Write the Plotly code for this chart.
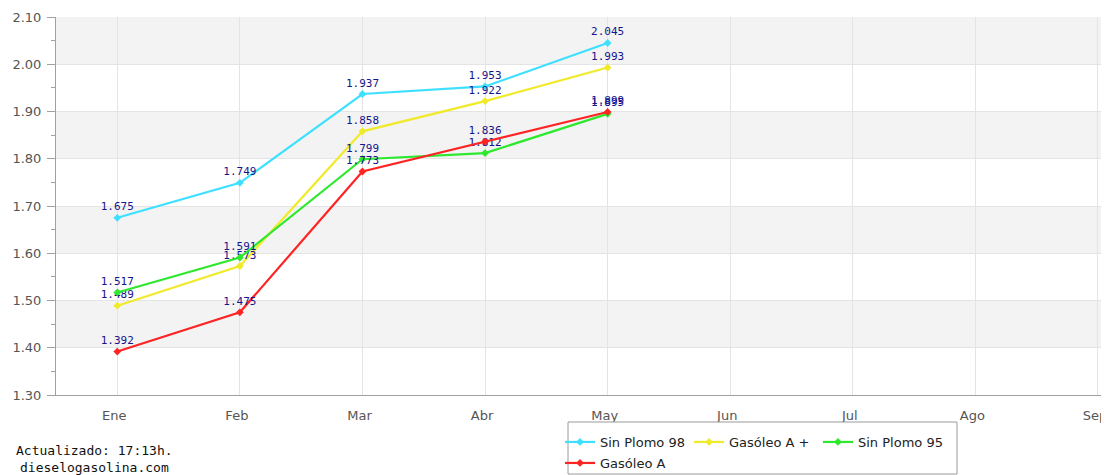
import plotly.graph_objects as go

months = ["Ene", "Feb", "Mar", "Abr", "May", "Jun", "Jul", "Ago", "Sep"]
y_ticks = [1.30, 1.40, 1.50, 1.60, 1.70, 1.80, 1.90, 2.00, 2.10]

sin_plomo_98 = [1.675, 1.749, 1.937, 1.953, 2.045]
gasoleo_a_plus = [1.489, 1.573, 1.858, 1.922, 1.993]
sin_plomo_95 = [1.517, 1.591, 1.799, 1.812, 1.895]
gasoleo_a = [1.392, 1.475, 1.773, 1.836, 1.899]

series = [
    ("Sin Plomo 98", sin_plomo_98, "#3FE0FF", "legend"),
    ("Gasóleo A +", gasoleo_a_plus, "#F0EA2A", "legend"),
    ("Sin Plomo 95", sin_plomo_95, "#2EE82E", "legend"),
    ("Gasóleo A", gasoleo_a, "#FF2424", "legend2"),
]

# the page body has an 8px margin, so the figure is offset by 8px
OFF = 8
W, H = 1109 - OFF, 475 - OFF
ML, MR, MT, MB = 56 - OFF, 0, 17 - OFF, 475 - 395
PW, PH = W - ML - MR, H - MT - MB


def px_x(p):
    """page pixel x -> paper x"""
    return (p - OFF - ML) / PW


def px_y(p):
    """page pixel y -> paper y"""
    return (H - MB - (p - OFF)) / PH


fig = go.Figure()
for name, vals, color, lg in series:
    fig.add_trace(go.Scatter(
        x=months[:len(vals)], y=vals, name=name, legend=lg,
        mode="lines+markers+text",
        line=dict(color=color, width=2.2),
        marker=dict(symbol="diamond", size=6, color=color),
        text=[f"{v:.3f}" for v in vals],
        textposition="top center",
        textfont=dict(family="DejaVu Sans Mono", size=11, color="#14148C"),
        cliponaxis=False,
    ))

shapes = []
for i in range(len(y_ticks) - 1):
    if i % 2 == 1:
        shapes.append(dict(type="rect", xref="paper", yref="y", x0=0, x1=1,
                           y0=y_ticks[i], y1=y_ticks[i + 1],
                           fillcolor="#F3F3F3", line=dict(width=0), layer="below"))
# legend frame
shapes.append(dict(type="rect", xref="paper", yref="paper",
                   x0=px_x(568), x1=px_x(957), y0=px_y(422), y1=px_y(474),
                   fillcolor="white", line=dict(color="#9A9A9A", width=1), layer="above"))

fig.update_layout(
    width=W, height=H,
    margin=dict(l=ML, r=MR, t=MT, b=MB, autoexpand=False),
    paper_bgcolor="white", plot_bgcolor="white",
    font=dict(family="DejaVu Sans", size=13, color="#555555"),
    shapes=shapes,
    xaxis=dict(
        type="category", categoryorder="array", categoryarray=months,
        range=[-0.5, 8.09],
        showgrid=True, gridcolor="#E4E4E4", gridwidth=1,
        showline=True, linecolor="#A0A0A0", linewidth=1,
        ticks="", ticklabelstandoff=8, ticklabelshift=-3,
        tickfont=dict(family="DejaVu Sans", size=13, color="#555555"),
        zeroline=False, fixedrange=True,
    ),
    yaxis=dict(
        range=[1.30, 2.10], tickvals=y_ticks,
        ticktext=[f"{v:.2f}" for v in y_ticks],
        showgrid=True, gridcolor="#E4E4E4", gridwidth=1,
        showline=True, linecolor="#A0A0A0", linewidth=1,
        ticks="outside", ticklen=8, tickcolor="#A0A0A0",
        minor=dict(dtick=0.05, tick0=1.30, ticks="outside", ticklen=4,
                   tickcolor="#A0A0A0", showgrid=False),
        ticklabelstandoff=3,
        tickfont=dict(family="DejaVu Sans", size=13, color="#555555"),
        zeroline=False, fixedrange=True,
    ),
    legend=dict(
        orientation="h", x=px_x(560), y=px_y(427), xanchor="left", yanchor="top",
        bgcolor="rgba(0,0,0,0)", borderwidth=0, entrywidth=84,
        font=dict(family="DejaVu Sans", size=13, color="#222222"),
    ),
    legend2=dict(
        orientation="h", x=px_x(560), y=px_y(448), xanchor="left", yanchor="top",
        bgcolor="rgba(0,0,0,0)", borderwidth=0,
        font=dict(family="DejaVu Sans", size=13, color="#222222"),
    ),
    annotations=[
        dict(text="Actualizado: 17:13h.", xref="paper", yref="paper",
             x=px_x(94.5), y=px_y(450), xanchor="center", yanchor="middle",
             showarrow=False, font=dict(family="DejaVu Sans Mono", size=13, color="#111111")),
        dict(text="dieselogasolina.com", xref="paper", yref="paper",
             x=px_x(94.5), y=px_y(467), xanchor="center", yanchor="middle",
             showarrow=False, font=dict(family="DejaVu Sans Mono", size=13, color="#111111")),
    ],
)

fig.write_html("out.html")
